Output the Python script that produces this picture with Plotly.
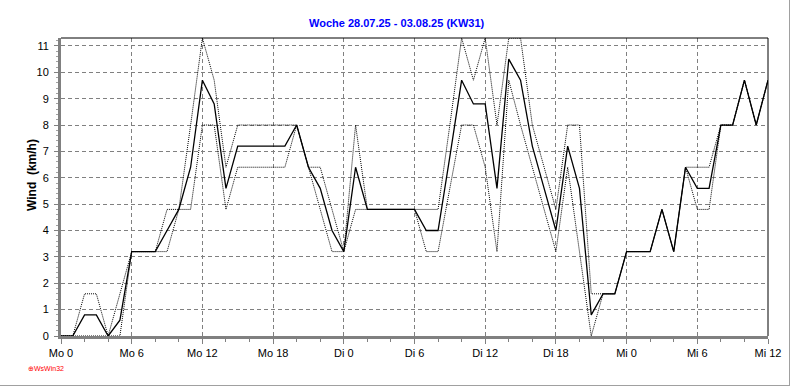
import plotly.graph_objects as go

# hours since Mo 0
hours = list(range(61))

wind_mean = [0, 0, 0.8, 0.8, 0, 0.6, 3.2, 3.2, 3.2, 4.0,
             4.8, 6.4, 9.7, 8.8, 5.6, 7.2, 7.2, 7.2, 7.2, 7.2,
             8.0, 6.4, 5.6, 4.0, 3.2, 6.4, 4.8, 4.8, 4.8, 4.8,
             4.8, 4.0, 4.0, 6.8, 9.7, 8.8, 8.8, 5.6, 10.5, 9.7,
             7.2, 5.6, 4.0, 7.2, 5.6, 0.8, 1.6, 1.6, 3.2, 3.2,
             3.2, 4.8, 3.2, 6.4, 5.6, 5.6, 8.0, 8.0, 9.7, 8.0,
             9.7]

wind_max = [0, 0, 1.6, 1.6, 0, 1.6, 3.2, 3.2, 3.2, 4.8,
            4.8, 8.0, 11.3, 9.7, 6.4, 8.0, 8.0, 8.0, 8.0, 8.0,
            8.0, 6.4, 6.4, 4.8, 3.2, 8.0, 4.8, 4.8, 4.8, 4.8,
            4.8, 4.8, 4.8, 8.0, 11.3, 9.7, 11.3, 8.0, 11.3, 11.3,
            8.0, 6.4, 4.8, 8.0, 8.0, 1.6, 1.6, 1.6, 3.2, 3.2,
            3.2, 4.8, 3.2, 6.4, 6.4, 6.4, 8.0, 8.0, 9.7, 8.0,
            9.7]

wind_min = [0, 0, 0, 0, 0, 0, 3.2, 3.2, 3.2, 3.2,
            4.8, 4.8, 8.0, 8.0, 4.8, 6.4, 6.4, 6.4, 6.4, 6.4,
            8.0, 6.4, 4.8, 3.2, 3.2, 4.8, 4.8, 4.8, 4.8, 4.8,
            4.8, 3.2, 3.2, 5.6, 8.0, 8.0, 6.4, 3.2, 9.7, 8.0,
            6.4, 4.8, 3.2, 6.4, 3.2, 0, 1.6, 1.6, 3.2, 3.2,
            3.2, 4.8, 3.2, 6.4, 4.8, 4.8, 8.0, 8.0, 9.7, 8.0,
            9.7]

x_tickvals = [0, 6, 12, 18, 24, 30, 36, 42, 48, 54, 60]
x_ticktext = ["Mo 0", "Mo 6", "Mo 12", "Mo 18", "Di 0", "Di 6",
              "Di 12", "Di 18", "Mi 0", "Mi 6", "Mi 12"]
y_tickvals = list(range(12))

FONT = "Liberation Sans, Arial, sans-serif"

fig = go.Figure()
fig.add_trace(go.Scatter(x=hours, y=wind_max, mode="lines",
                         line=dict(color="black", width=1, dash="1px,1px"),
                         hoverinfo="skip"))
fig.add_trace(go.Scatter(x=hours, y=wind_min, mode="lines",
                         line=dict(color="black", width=1, dash="1px,1px"),
                         hoverinfo="skip"))
fig.add_trace(go.Scatter(x=hours, y=wind_mean, mode="lines",
                         line=dict(color="black", width=1.3),
                         hoverinfo="skip"))

W, H = 792, 387
L, R, T, B = 61, 768, 38, 336
pw, ph = R - L, B - T


def px(X):
    return (X - L) / pw


def py(Y):
    return (B - Y) / ph


fig.update_layout(
    width=W, height=H,
    margin=dict(l=L, r=W - R, t=T, b=H - B, pad=0),
    paper_bgcolor="white", plot_bgcolor="white",
    showlegend=False,
    font=dict(family=FONT, size=11, color="black"),
    xaxis=dict(
        range=[0, 60], tickvals=x_tickvals, ticktext=x_ticktext,
        showgrid=True, gridcolor="#808080", griddash="4px,3px", gridwidth=1,
        zeroline=False, showline=True, linecolor="#808080", linewidth=3,
        ticks="outside", ticklen=5, tickcolor="#808080", tickwidth=1,
        minor=dict(dtick=2, tick0=0, ticks="outside", ticklen=3,
                   tickcolor="#808080", showgrid=False),
        tickfont=dict(family=FONT, size=11, color="black"),
        fixedrange=True,
    ),
    yaxis=dict(
        range=[0, 11.3], tickvals=y_tickvals,
        showgrid=True, gridcolor="#808080", griddash="4px,3px", gridwidth=1,
        zeroline=False, showline=True, linecolor="#808080", linewidth=3,
        ticks="outside", ticklen=4, tickcolor="#808080", tickwidth=1,
        minor=dict(dtick=0.2, tick0=0, ticks="outside", ticklen=2,
                   tickcolor="#a0a0a0", showgrid=False),
        tickfont=dict(family=FONT, size=11, color="black"),
        ticklabelstandoff=3,
        fixedrange=True,
    ),
    shapes=[
        dict(type="line", xref="paper", yref="paper", x0=0, x1=1, y0=1, y1=1,
             line=dict(color="black", width=1)),
        dict(type="line", xref="paper", yref="paper", x0=1, x1=1, y0=0, y1=1,
             line=dict(color="black", width=1)),
        dict(type="line", xref="paper", yref="paper", x0=px(0), x1=px(790),
             y0=py(385.5), y1=py(385.5), line=dict(color="#a0a0a0", width=1)),
        dict(type="line", xref="paper", yref="paper", x0=px(789.5), x1=px(789.5),
             y0=py(0), y1=py(385.5), line=dict(color="#a0a0a0", width=1)),
    ],
    annotations=[
        dict(text="<b>Woche 28.07.25 - 03.08.25 (KW31)</b>", xref="paper", yref="paper",
             x=px(397), y=py(23), xanchor="center", yanchor="middle", showarrow=False,
             font=dict(family=FONT, size=11, color="#0000FF")),
        dict(text="<b>Wind  (km/h)</b>", xref="paper", yref="paper",
             x=px(32), y=py(175), xanchor="center", yanchor="middle", showarrow=False,
             textangle=-90, font=dict(family=FONT, size=12, color="black")),
        dict(text="⊕WsWin32", xref="paper", yref="paper",
             x=px(26), y=py(368), xanchor="left", yanchor="middle", showarrow=False,
             font=dict(family=FONT, size=7, color="#FF0000")),
    ],
)

fig.write_html("out.html",
               config={"displayModeBar": False, "staticPlot": True},
               post_script="document.body.style.margin='0';document.body.style.overflow='hidden';")
